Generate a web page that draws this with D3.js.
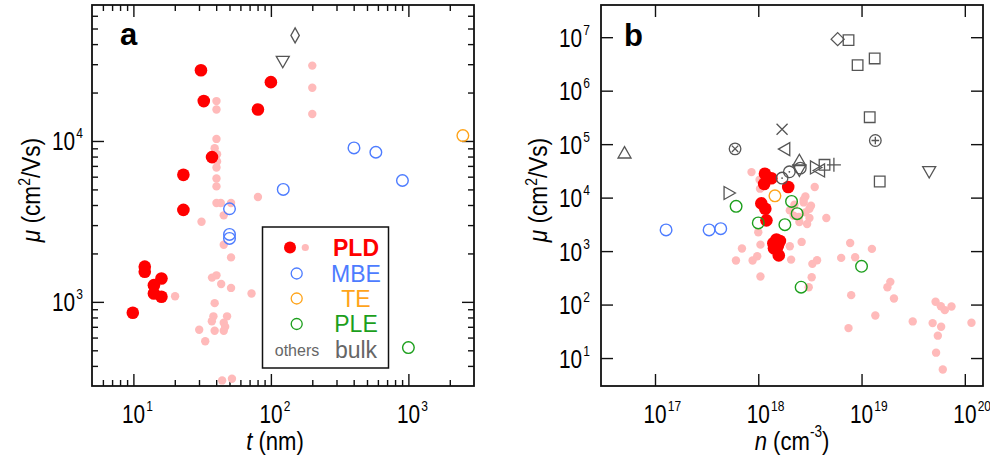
<!DOCTYPE html>
<html>
<head>
<meta charset="utf-8">
<script src="https://cdn.jsdelivr.net/npm/d3@7/dist/d3.min.js"></script>
<style>
  html, body { margin: 0; padding: 0; background: #fff; }
  svg { display: block; font-family: "Liberation Sans", Arial, sans-serif; }
</style>
</head>
<body>
<svg id="chart" width="990" height="466"></svg>
<script>
// ---------- Panel a: mobility vs. film thickness ----------
const pldT   = [31, 32.5, 100, 80.5, 37.3, 23.1, 23.1, 12.1, 12.1, 16, 14.1, 14.1, 16, 9.9];
const pldMuA = [27500, 17700, 23200, 15700, 7940, 6160, 3730, 1655, 1540, 1396, 1270, 1127, 1075, 855];

const pinkT   = [40.2, 40.2, 40.2, 39, 40.6, 40.6, 40.2, 40.2, 40.2, 80.5, 200, 200, 200,
                 40.2, 43.2, 51.3, 45.4, 31.3, 45.4, 51.3, 37.3, 40.2, 43.5, 51.3, 72.3, 20.1,
                 39, 38.2, 48, 37.2, 45.4, 46.5, 30.1, 39, 45.4, 33.3, 44.2, 52.1];
const pinkMuA = [17700, 15700, 10300, 9010, 8270, 7450, 6840, 5850, 5220, 4490, 29400, 21400, 14700,
                 4120, 4120, 4120, 3450, 3150, 2265, 1890, 1415, 1462, 1292, 1221, 1127, 1084,
                 982, 813, 813, 757, 742, 700, 671, 662, 662, 569, 325, 333];

const mbeT   = [123, 402, 580, 905, 50, 50, 50];
const mbeMuA = [5000, 9050, 8510, 5680, 3790, 2625, 2480];

const teT   = [2490];
const teMuA = [10800];

const pleT   = [1000];
const pleMuA = [520];

const otherT     = [122, 150];
const otherMuA   = [31300, 45300];
const otherShapeA = ["triDown", "diamondTall"];

// ---------- Panel b: mobility vs. carrier density ----------
const pldN   = [1.16e18, 1.34e18, 1.14e18, 1.95e18, 1.07e18, 1.17e18, 1.2e18,
                1.5e18, 1.62e18, 1.4e18, 1.55e18, 1.42e18, 1.5e18, 1.58e18];
const pldMuB = [28000, 23000, 18000, 15800, 7800, 6200, 3760,
                1650, 1540, 1400, 1270, 1130, 1075, 830];

const pinkN   = [8.6e17, 1.03e18, 1.04e18, 3.52e18, 2.86e18, 2.75e18, 2.75e18, 2.24e18, 3.24e18,
                 3.13e18, 2.02e18, 2.86e18, 2.2e18, 2.47e18, 3.13e18, 4.56e18, 2.5e18, 2.97e18,
                 2.63e18, 7.76e18, 1.26e19, 2.02e18, 2.08e18, 3.71e18, 3.34e18, 6.35e18, 8.67e18,
                 3.29e18, 3.08e18, 1.9e19, 1.78e19, 2.06e19, 7.94e18, 1.36e19, 7.48e18, 3.13e19,
                 5.21e19, 5.86e19, 6.4e19, 7.43e19, 4.88e19, 5.9e19, 5.48e19, 5.27e19, 6.12e19,
                 1.16e20, 1.0e18, 6.95e17, 1.05e18, 9.77e17, 8.81e17, 6.08e17, 1.05e18];
const pinkMuB = [30000, 21600, 14700, 15800, 10500, 9140, 8130, 7380, 7060,
                 6210, 5770, 5300, 4590, 4340, 4160, 4160, 3510, 3220,
                 1485, 1420, 1100, 1230, 693, 673, 577, 746, 766,
                 324, 211, 266, 211, 130, 150, 62.6, 36.3, 48.4,
                 113, 93.3, 78.7, 92.3, 45, 38.5, 26.2, 12.6, 6.1,
                 45.7, 2245, 1115, 1320, 800, 665, 665, 334];

const mbeN   = [1.28e17, 3.34e17, 4.33e17];
const mbeMuB = [2490, 2490, 2630];

const teN   = [1.45e18];
const teMuB = [10800];

const pleN   = [6.1e17, 1.0e18, 1.81e18, 2.38e18, 2.1e18, 2.6e18, 1.0e19];
const pleMuB = [6860, 3360, 3120, 5010, 8490, 211, 520];

const otherN      = [5.07e16, 5.96e17, 5.2e17, 1.7e18, 1.81e18, 1.7e18, 2.0e18,
                     2.5e18, 2.55e18, 2.5e18, 7.48e18, 9.16e18, 1.34e19, 1.2e19, 1.5e19,
                     4.38e18, 5.87e18, 1.36e19, 4.52e19, 5.4e18, 3.57e18, 3.93e18];
const otherMuB    = [67900, 81700, 12200, 190000, 80700, 23200, 30400,
                     48900, 35600, 33000, 8.83e6, 3.0e6, 4.0e6, 319000, 20000,
                     41100, 9.2e6, 117000, 30800, 41100, 36600, 32200];
const otherShapeB = ["triUp", "circleX", "triRight", "x", "triLeft", "circleDot", "circleDot",
                     "triUp", "circle", "triDown", "square", "square", "square", "square", "square",
                     "square", "diamond", "circlePlus", "triDown", "plus", "triRight", "triLeft"];

// ---------- Axis ranges and tick labels ----------
const tDomain  = [5, 3000];
const muDomainA = [300, 70000];
const nDomain  = [3e16, 1.5e20];
const muDomainB = [3, 4e7];
const tExponents  = [1, 2, 3];
const muExpA      = [3, 4];
const nExponents  = [17, 18, 19, 20];
const muExpB      = [1, 2, 3, 4, 5, 6, 7];

const legendLabels = ["PLD", "MBE", "TE", "PLE"];

// ---------- Styling ----------
const C = {
  pld: "#ff0000",
  pink: "#ffbaba",
  mbe: "#4d7cff",
  te: "#ffa41a",
  ple: "#1c9f1c",
  other: "#555555",
  axis: "#111111"
};
const FONT_TICK = 26, FONT_SUP = 15, SQUEEZE = 0.8;

const svg = d3.select("#chart");

const panelA = { x0: 92, x1: 474, y0: 5, y1: 386 };
const panelB = { x0: 601, x1: 983, y0: 5, y1: 386 };

const xA = d3.scaleLog().domain(tDomain).range([panelA.x0, panelA.x1]);
const yA = d3.scaleLog().domain(muDomainA).range([panelA.y1, panelA.y0]);
const xB = d3.scaleLog().domain(nDomain).range([panelB.x0, panelB.x1]);
const yB = d3.scaleLog().domain(muDomainB).range([panelB.y1, panelB.y0]);

function minorTicks(domain) {
  const out = [];
  const lo = Math.floor(Math.log10(domain[0])), hi = Math.ceil(Math.log10(domain[1]));
  for (let e = lo; e <= hi; e++) {
    for (let m = 2; m <= 9; m++) {
      const v = m * Math.pow(10, e);
      if (v > domain[0] * 1.0001 && v < domain[1] * 0.9999) out.push(v);
    }
  }
  return out;
}

function styleAxis(g) {
  g.select(".domain").remove();
  g.selectAll("line").attr("stroke", C.axis).attr("stroke-width", 1.4);
  g.selectAll("text").remove();
}

function drawFrame(p, x, y, majorX, majorY, withMinor) {
  const g = svg.append("g");
  const H = p.y1 - p.y0, W = p.x1 - p.x0;
  const MAJ = 12, MIN = 6;
  const setups = [
    [d3.axisBottom, x, majorX, `translate(0,${p.y1})`],
    [d3.axisTop, x, majorX, `translate(0,${p.y0})`],
    [d3.axisLeft, y, majorY, `translate(${p.x0},0)`],
    [d3.axisRight, y, majorY, `translate(${p.x1},0)`]
  ];
  setups.forEach(([fn, sc, vals, tr]) => {
    g.append("g").attr("transform", tr)
      .call(fn(sc).tickValues(vals).tickSize(-MAJ).tickFormat(""))
      .call(styleAxis);
    if (withMinor) {
      g.append("g").attr("transform", tr)
        .call(fn(sc).tickValues(minorTicks(sc.domain())).tickSize(-MIN).tickFormat(""))
        .call(styleAxis);
    }
  });
  g.append("rect")
    .attr("x", p.x0).attr("y", p.y0).attr("width", W).attr("height", H)
    .attr("fill", "none").attr("stroke", C.axis).attr("stroke-width", 1.8);
}

// Power-of-ten label, drawn horizontally condensed
function powLabel(px, py, e, anchor) {
  const t = svg.append("text")
    .attr("transform", `translate(${px},${py}) scale(${SQUEEZE},1)`)
    .attr("text-anchor", anchor)
    .attr("font-size", FONT_TICK).attr("fill", "#000");
  t.append("tspan").text("10");
  t.append("tspan").attr("font-size", FONT_SUP).attr("dy", -12).attr("dx", 1.5).text(e);
  return t;
}

function xTickLabels(x, exps, p) {
  exps.forEach(e => powLabel(x(Math.pow(10, e)) - 11.5, p.y1 + 37, e, "start"));
}

function yTickLabels(y, exps, p, gap) {
  exps.forEach(e => powLabel(p.x0 - gap, y(Math.pow(10, e)) + 9.5, e, "end"));
}

function yTitle(cx, cy) {
  const t = svg.append("text")
    .attr("transform", `translate(${cx},${cy}) rotate(-90) scale(0.87,1)`)
    .attr("text-anchor", "middle").attr("font-size", 26).attr("fill", "#000");
  t.append("tspan").attr("font-style", "italic").text("μ");
  t.append("tspan").text(" (cm");
  t.append("tspan").attr("font-size", 16).attr("dy", -10).text("2");
  t.append("tspan").attr("dy", 10).text("/Vs)");
}

// ---------- Marker shapes ----------
function shapePath(kind) {
  const s = 6.5;
  switch (kind) {
    case "triUp":    return `M0,${-s}L${s},${s * 0.75}L${-s},${s * 0.75}Z`;
    case "triDown":  return `M0,${s}L${s},${-s * 0.75}L${-s},${-s * 0.75}Z`;
    case "triLeft":  return `M${-s},0L${s * 0.75},${-s}L${s * 0.75},${s}Z`;
    case "triRight": return `M${s},0L${-s * 0.75},${-s}L${-s * 0.75},${s}Z`;
    case "square":   return `M${-5.3},${-5.3}H5.3V5.3H${-5.3}Z`;
    case "diamond":  return `M0,${-s}L${s},0L0,${s}L${-s},0Z`;
    case "diamondTall": return `M0,${-7.5}L4.2,0L0,7.5L-4.2,0Z`;
    case "x":        return "M-5.5,-5.5L5.5,5.5M5.5,-5.5L-5.5,5.5";
    case "plus":     return "M-7,0H7M0,-7V7";
    default:         return null;
  }
}

function drawOthers(xs, ys, shapes, x, y) {
  const g = svg.append("g").attr("fill", "none").attr("stroke", C.other).attr("stroke-width", 1.3);
  shapes.forEach((k, i) => {
    const cx = x(xs[i]), cy = y(ys[i]);
    const node = g.append("g").attr("transform", `translate(${cx},${cy})`);
    const path = shapePath(k);
    if (path) { node.append("path").attr("d", path); return; }
    node.append("circle").attr("r", 5.8);
    if (k === "circleDot") node.append("circle").attr("r", 0.9).attr("fill", C.other).attr("stroke", "none");
    if (k === "circleX") node.append("path").attr("d", "M-3.2,-3.2L3.2,3.2M3.2,-3.2L-3.2,3.2");
    if (k === "circlePlus") node.append("path").attr("d", "M-3.8,0H3.8M0,-3.8V3.8");
  });
}

function dots(xs, ys, x, y, r, color) {
  svg.append("g").selectAll("circle").data(xs).join("circle")
    .attr("cx", d => x(d)).attr("cy", (d, i) => y(ys[i]))
    .attr("r", r).attr("fill", color);
}

function rings(xs, ys, x, y, color) {
  svg.append("g").selectAll("circle").data(xs).join("circle")
    .attr("cx", d => x(d)).attr("cy", (d, i) => y(ys[i]))
    .attr("r", 5.8).attr("fill", "none").attr("stroke", color).attr("stroke-width", 1.4);
}

// ---------- Panel a ----------
drawFrame(panelA, xA, yA, tExponents.map(e => Math.pow(10, e)), muExpA.map(e => Math.pow(10, e)), true);
dots(pinkT, pinkMuA, xA, yA, 4.2, C.pink);
dots(pldT, pldMuA, xA, yA, 6.3, C.pld);
rings(mbeT, mbeMuA, xA, yA, C.mbe);
rings(teT, teMuA, xA, yA, C.te);
rings(pleT, pleMuA, xA, yA, C.ple);
drawOthers(otherT, otherMuA, otherShapeA, xA, yA);
xTickLabels(xA, tExponents, panelA);
yTickLabels(yA, muExpA, panelA, 9);
yTitle(40, 190);
{
  const t = svg.append("text")
    .attr("transform", `translate(${(panelA.x0 + panelA.x1) / 2 - 8},${panelA.y1 + 64}) scale(0.85,1)`)
    .attr("text-anchor", "middle").attr("font-size", 26);
  t.append("tspan").attr("font-style", "italic").text("t");
  t.append("tspan").text(" (nm)");
}
svg.append("text").attr("x", 120).attr("y", 45).attr("font-size", 31)
  .attr("font-weight", "bold").text("a");

// Legend
{
  const lg = svg.append("g").attr("transform", "translate(262.5,227)");
  lg.append("rect").attr("width", 126).attr("height", 141)
    .attr("fill", "#fff").attr("stroke", C.axis).attr("stroke-width", 1.5);
  const rowY = [20.5, 46.5, 71.5, 97, 123];
  const colors = [C.pld, C.mbe, C.te, C.ple];
  lg.append("circle").attr("cx", 27.5).attr("cy", rowY[0]).attr("r", 6).attr("fill", C.pld);
  lg.append("circle").attr("cx", 42.8).attr("cy", rowY[0]).attr("r", 3.6).attr("fill", C.pink);
  [1, 2, 3].forEach(i => {
    lg.append("circle").attr("cx", 34.2).attr("cy", rowY[i]).attr("r", 5.5)
      .attr("fill", "none").attr("stroke", colors[i]).attr("stroke-width", 1.3);
  });
  legendLabels.forEach((lab, i) => {
    lg.append("text").attr("x", 93.5).attr("y", rowY[i] + 8).attr("text-anchor", "middle")
      .attr("font-size", 23).attr("font-weight", i === 0 ? "bold" : "normal")
      .attr("fill", colors[i]).text(lab);
  });
  lg.append("text").attr("x", 34.5).attr("y", rowY[4] + 6).attr("text-anchor", "middle")
    .attr("font-size", 16).attr("fill", "#666").text("others");
  lg.append("text").attr("x", 93.5).attr("y", rowY[4] + 8).attr("text-anchor", "middle")
    .attr("font-size", 23).attr("fill", "#666").text("bulk");
}

// ---------- Panel b ----------
drawFrame(panelB, xB, yB, nExponents.map(e => Math.pow(10, e)), muExpB.map(e => Math.pow(10, e)), false);
dots(pinkN, pinkMuB, xB, yB, 4.2, C.pink);
dots(pldN, pldMuB, xB, yB, 6.3, C.pld);
rings(mbeN, mbeMuB, xB, yB, C.mbe);
rings(teN, teMuB, xB, yB, C.te);
rings(pleN, pleMuB, xB, yB, C.ple);
drawOthers(otherN, otherMuB, otherShapeB, xB, yB);
xTickLabels(xB, nExponents, panelB);
yTickLabels(yB, muExpB, panelB, 11);
yTitle(547, 190);
{
  const t = svg.append("text")
    .attr("transform", `translate(${(panelB.x0 + panelB.x1) / 2},${panelB.y1 + 64}) scale(0.85,1)`)
    .attr("text-anchor", "middle").attr("font-size", 26);
  t.append("tspan").attr("font-style", "italic").text("n");
  t.append("tspan").text(" (cm");
  t.append("tspan").attr("font-size", 16).attr("dy", -13).text("-3");
  t.append("tspan").attr("dy", 13).text(")");
}
svg.append("text").attr("x", 624).attr("y", 46).attr("font-size", 31)
  .attr("font-weight", "bold").text("b");
</script>
</body>
</html>
